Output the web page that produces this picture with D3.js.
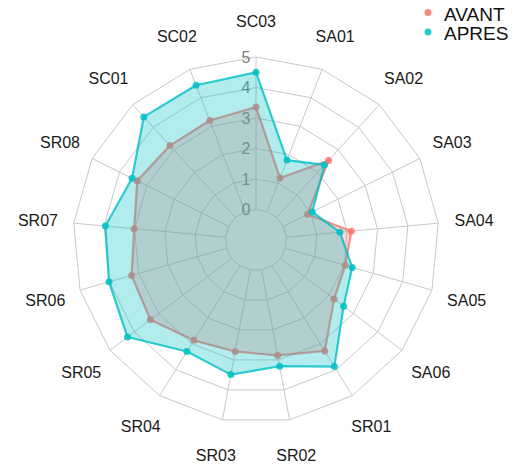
<!DOCTYPE html>
<html>
<head>
<meta charset="utf-8">
<script src="https://cdn.jsdelivr.net/npm/d3@7"></script>
<style>
html,body{margin:0;padding:0;background:#fff;}
svg{display:block;font-family:"Liberation Sans",Arial,sans-serif;}
</style>
</head>
<body>
<svg id="chart" width="525" height="468"></svg>
<script>
const categories = ["SC03","SA01","SA02","SA03","SA04","SA05","SA06","SR01","SR02","SR03","SR04","SR05","SR06","SR07","SR08","SC01","SC02"];
const avant = [3.36, 1.18, 2.53, 0.89, 2.14, 2.04, 2.21, 3.28, 2.85, 2.72, 2.87, 3.34, 3.24, 3.01, 3.35, 3.19, 3.20];
const apres = [4.50, 1.81, 2.33, 1.06, 1.76, 2.28, 2.60, 3.88, 3.21, 3.49, 3.30, 4.28, 4.01, 3.96, 3.54, 4.46, 4.44];
const ticks = [0, 1, 2, 3, 4, 5];
const seriesNames = ["AVANT", "APRES"];
const seriesColors = ["#F8766D", "#00BFC4"];

const svg = d3.select("#chart");
const cx = 256, cy = 240;
const r = d3.scaleLinear().domain([-1, 5]).range([0, 183]);
const a = d3.scalePoint().domain(categories.concat(["_end"])).range([0, 2 * Math.PI]);
const g = svg.append("g").attr("transform", `translate(${cx},${cy})`);

const px = (ang, rad) => rad * Math.sin(ang);
const py = (ang, rad) => -rad * Math.cos(ang);

// grid rings
const ringLine = d3.lineRadial().curve(d3.curveLinearClosed);
g.selectAll("path.ring").data(ticks).join("path")
  .attr("class", "ring")
  .attr("d", t => ringLine(categories.map(c => [a(c), r(t)])))
  .attr("fill", "none").attr("stroke", "#c8c8c8").attr("stroke-width", 1);

// spokes
g.selectAll("line.spoke").data(categories).join("line")
  .attr("x1", c => px(a(c), r(0))).attr("y1", c => py(a(c), r(0)))
  .attr("x2", c => px(a(c), r(5))).attr("y2", c => py(a(c), r(5)))
  .attr("stroke", "#c8c8c8").attr("stroke-width", 1);

// tick labels
g.selectAll("text.tick").data(ticks).join("text")
  .attr("x", -10).attr("y", t => -r(t)).attr("dy", "0.36em")
  .attr("text-anchor", "middle").attr("font-size", 16).attr("fill", "#808080")
  .text(t => t);

const area = d3.lineRadial().curve(d3.curveLinearClosed)
  .angle((d, i) => a(categories[i])).radius(d => r(d));

[avant, apres].forEach((vals, k) => {
  const col = seriesColors[k];
  g.append("path").attr("d", area(vals))
    .attr("fill", col).attr("fill-opacity", 0.3)
    .attr("stroke", col).attr("stroke-opacity", 0.8).attr("stroke-width", 2.2)
    .attr("stroke-linejoin", "round");
  g.selectAll(null).data(vals).join("circle")
    .attr("cx", (d, i) => px(a(categories[i]), r(d)))
    .attr("cy", (d, i) => py(a(categories[i]), r(d)))
    .attr("r", 3.5).attr("fill", col).attr("fill-opacity", 0.85);
});

// category labels
g.selectAll("text.cat").data(categories).join("text")
  .attr("x", c => px(a(c), 219)).attr("y", c => py(a(c), 219)).attr("dy", "0.36em")
  .attr("text-anchor", "middle").attr("font-size", 16).attr("fill", "#1a1a1a")
  .text(c => c);

// legend
const leg = svg.append("g");
seriesNames.forEach((n, k) => {
  leg.append("circle").attr("cx", 428).attr("cy", 12.5 + k * 19.5).attr("r", 3.5).attr("fill", seriesColors[k]).attr("fill-opacity", 0.85);
  leg.append("text").attr("x", 444).attr("y", 20.5 + k * 19.5).attr("font-size", 19).attr("fill", "#111").text(n);
});
</script>
</body>
</html>
